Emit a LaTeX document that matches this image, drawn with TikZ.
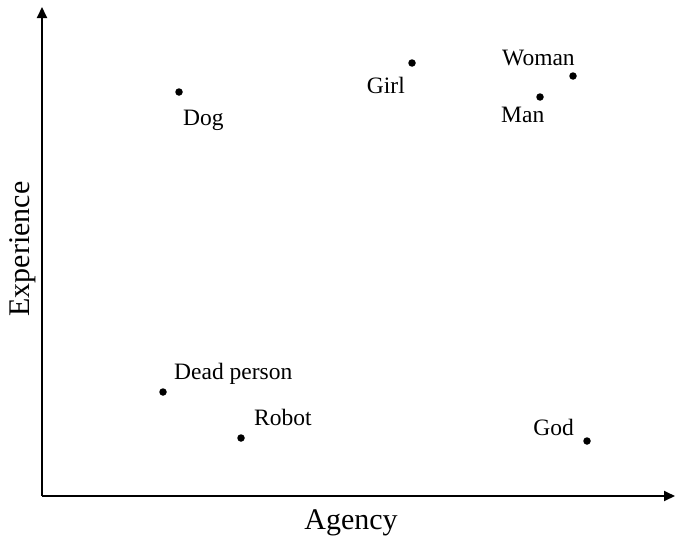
\documentclass[tikz,border=0pt]{standalone}
\usepackage{fontspec}
\setmainfont{Liberation Serif}
\usetikzlibrary{arrows.meta}
\begin{document}
\begin{tikzpicture}[x=1pt,y=-1pt,
  axis/.style={line width=1.8pt,-{Triangle[length=11pt,width=10pt]}},
  dot/.style={circle,fill=black,inner sep=0pt,minimum size=7.5pt},
  lbl/.style={inner sep=0pt,font=\fontsize{23.5}{26}\selectfont},
  axlbl/.style={inner sep=0pt,font=\fontsize{30}{34}\selectfont}]
\useasboundingbox (0,0) rectangle (675,538);
% axes
\coordinate (o) at (42,496);
\coordinate (ytip) at (42,7);
\coordinate (xtip) at (675,496);
\draw[axis] (o) -- (ytip);
\draw[axis] (o) -- (xtip);
\node[axlbl,anchor=base] (xlab) at (351,529) {Agency};
\node[axlbl,anchor=base,rotate=90] (ylab) at (29,249) {Experience};
% data points
\node[dot] (dog) at (179,92) {};
\node[dot] (girl) at (412,63) {};
\node[dot] (woman) at (573,76) {};
\node[dot] (man) at (540,97) {};
\node[dot] (dead) at (163,392) {};
\node[dot] (robot) at (241,438) {};
\node[dot] (god) at (587,441) {};
% labels
\node[lbl,anchor=base west] (tdog) at (183,125) {Dog};
\node[lbl,anchor=base east] (tgirl) at (405,93) {Girl};
\node[lbl,anchor=base west] (twoman) at (502,65) {Woman};
\node[lbl,anchor=base west] (tman) at (501,122) {Man};
\node[lbl,anchor=base west] (tdead) at (174,379) {Dead person};
\node[lbl,anchor=base west] (trobot) at (254,425) {Robot};
\node[lbl,anchor=base east] (tgod) at (574,435) {God};
\end{tikzpicture}
\end{document}
